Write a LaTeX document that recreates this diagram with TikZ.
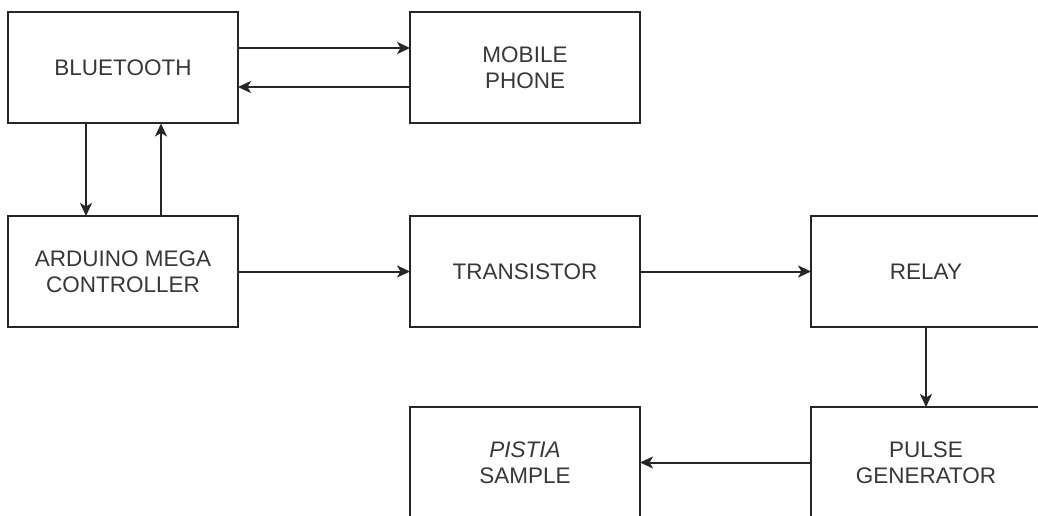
\documentclass[tikz,border=0pt]{standalone}
\usepackage{fontspec}
\setmainfont{Liberation Sans}
\usetikzlibrary{arrows.meta}
\begin{document}
\begin{tikzpicture}[x=1pt,y=-1pt,
  blk/.style={draw=black!85, line width=2pt, fill=white, minimum width=230pt, minimum height=111pt, inner sep=0pt, outer sep=0pt, align=center, text=black!78, font=\fontsize{22.5}{26}\selectfont},
  arr/.style={draw=black!85, line width=2pt, -{Stealth[length=13pt,width=12pt,inset=3.5pt]}}]
\useasboundingbox (0,0) rectangle (1038,516);
\clip (0,0) rectangle (1038,516);
\fill[white] (0,0) rectangle (1038,516);
\node[blk] (bt) at (123,68) {BLUETOOTH};
\node[blk] (mp) at (525,68) {MOBILE\\PHONE};
\node[blk] (ar) at (123,271.5) {ARDUINO MEGA\\CONTROLLER};
\node[blk] (tr) at (525,271.5) {TRANSISTOR};
\node[blk] (re) at (926,271.5) {RELAY};
\node[blk] (pi) at (525,462.5) {\textit{PISTIA}\\SAMPLE};
\node[blk] (pu) at (926,462.5) {PULSE\\GENERATOR};
\draw[arr] ([yshift=20pt]bt.east) -- ([yshift=20pt]mp.west);
\draw[arr] ([yshift=-19pt]mp.west) -- ([yshift=-19pt]bt.east);
\draw[arr] ([xshift=-37pt]bt.south) -- ([xshift=-37pt]ar.north);
\draw[arr] ([xshift=38pt]ar.north) -- ([xshift=38pt]bt.south);
\draw[arr] (ar.east) -- (tr.west);
\draw[arr] (tr.east) -- (re.west);
\draw[arr] (re.south) -- (pu.north);
\draw[arr] (pu.west) -- (pi.east);
\end{tikzpicture}
\end{document}
